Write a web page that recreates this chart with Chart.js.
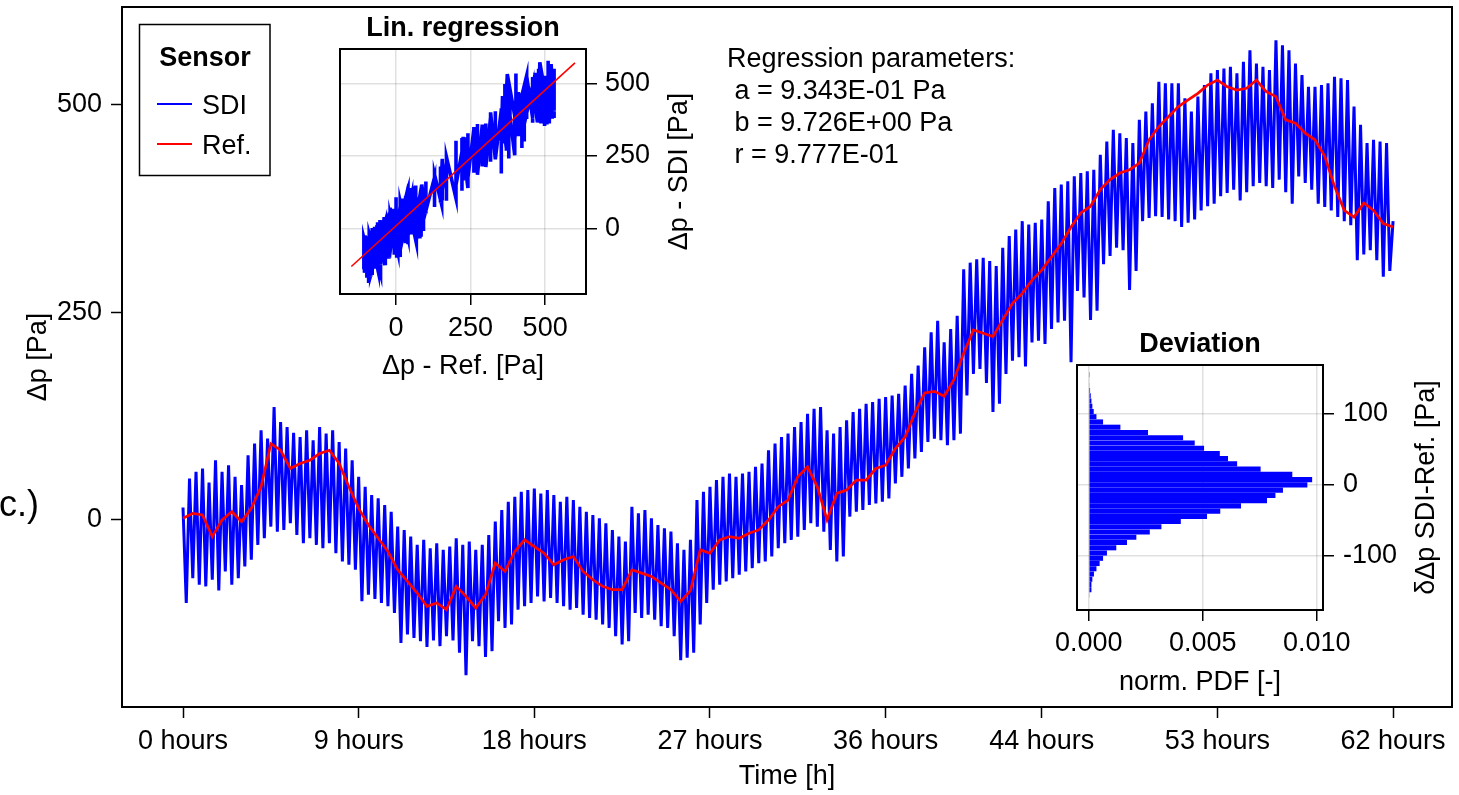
<html>
<head>
    <title>SDI vs reference</title>
    <style>
        body { margin: 0; background: #fff; }
        #wrap { position: relative; width: 1459px; height: 795px; }
        #wrap canvas { position: absolute; }
    </style>
</head>
<body>

<script src="https://cdn.jsdelivr.net/npm/chart.js"></script>

<div id="wrap">
    <canvas id="main_chart" width="1459" height="795" style="left:0;top:0"></canvas>
    <canvas id="reg_chart" width="420" height="390" style="left:300px;top:0"></canvas>
    <canvas id="dev_chart" width="419" height="400" style="left:1040px;top:320px"></canvas>
</div>

<script>

    // ---- data ----

    // main plot: time axis (hours)
    const x_tick_hours = [0, 9, 18, 27, 36, 44, 53, 62];
    const y_ticks = [0, 250, 500];

    // Ref. sensor, one value every 0.5 h (Pa)
    const ref_step_h = 0.5;
    const ref_values = [
        2, 8, 6, -20, 0, 10, -2, 14, 40, 92,
        84, 62, 68, 72, 80, 84, 68, 40, 14, -6,
        -22, -38, -60, -74, -88, -104, -100, -108, -80, -92,
        -106, -90, -52, -62, -38, -24, -32, -40, -54, -48,
        -44, -62, -72, -80, -84, -84, -60, -64, -68, -76,
        -84, -98, -85, -36, -40, -24, -20, -22, -16, -12,
        0, 16, 24, 52, 64, 40, 0, 32, 36, 48,
        48, 62, 66, 86, 100, 129, 153, 155, 149, 169,
        201, 229, 225, 221, 241, 261, 273, 289, 301, 317,
        333, 353, 370, 378, 398, 410, 418, 422, 430, 458,
        474, 486, 498, 506, 514, 524, 530, 522, 518, 520,
        530, 516, 510, 482, 478, 466, 458, 438, 402, 373,
        365, 382, 373, 357, 353
    ];

    // SDI sensor oscillates, one cycle every 20 min: peak at start, dip at mid cycle (Pa)
    const cycle_h = 1 / 3;
    const sdi_high = [
        15, 50, 58, 62, 45, 72, 58, 66, 52, 42, 78, 92,
        108, 98, 136, 118, 112, 105, 100, 108, 96, 112, 104, 108,
        94, 86, 72, 52, 40, 30, 26, 18, 10, -8, -12, -20,
        -30, -24, -34, -28, -36, -32, -22, -30, -26, -36, -30, -18,
        -2, 12, 22, 28, 34, 36, 38, 32, 36, 30, 22, 28,
        24, 16, 10, 6, 2, -4, -12, -20, -26, 16, 8, 12,
        2, -6, -10, -14, -28, -36, -24, 24, 34, 40, 48, 52,
        56, 52, 56, 58, 64, 68, 84, 92, 100, 104, 112, 118,
        128, 134, 136, 108, 104, 112, 120, 130, 134, 140, 142, 146,
        148, 150, 152, 162, 176, 186, 208, 226, 240, 214, 230, 246,
        302, 310, 314, 316, 312, 306, 328, 342, 350, 360, 356, 358,
        362, 384, 400, 404, 408, 414, 418, 420, 422, 440, 456, 470,
        466, 460, 454, 482, 492, 502, 528, 526, 526, 526, 508, 492,
        510, 524, 538, 542, 544, 546, 538, 552, 566, 550, 546, 542,
        578, 572, 566, 550, 536, 522, 522, 524, 526, 534, 532, 530,
        498, 476, 454, 458, 456, 454,
        360
    ];
    const sdi_low = [
        -100, -70, -78, -80, -72, -85, -62, -78, -70, -56, -48, -30,
        -22, -8, -14, -12, -4, -18, -28, -22, -30, -34, -28, -40,
        -50, -54, -60, -98, -90, -95, -100, -104, -112, -148, -138, -142,
        -146, -153, -145, -152, -140, -145, -160, -187, -146, -152, -165, -158,
        -122, -130, -126, -108, -104, -100, -92, -98, -94, -100, -104, -108,
        -106, -114, -118, -120, -126, -130, -140, -150, -146, -112, -118, -114,
        -120, -128, -130, -140, -169, -166, -160, -126, -100, -84, -78, -74,
        -70, -66, -62, -58, -52, -50, -44, -34, -28, -24, -20, -12,
        -4, -8, -14, -36, -50, -44, 4, 10, 12, 18, 20, 22,
        26, 44, 52, 62, 74, 82, 94, 98, 96, 90, 96, 104,
        150, 176, 182, 165, 130, 140, 176, 192, 196, 185, 214, 216,
        212, 230, 238, 240, 190, 276, 268, 241, 252, 308, 318, 328,
        325, 277, 300, 360, 364, 366, 365, 362, 360, 353, 358, 362,
        373, 378, 381, 390, 394, 398, 385, 395, 402, 406, 402, 400,
        410, 395, 381, 414, 406, 398, 381, 377, 373, 365, 360, 355,
        313, 320, 325, 313, 293, 300
    ];

    // linear regression inset
    const reg_ticks = [0, 250, 500];
    const reg_a = 0.9343;
    const reg_b = 9.726;
    const reg_r = 0.9777;
    const fit_x = [-150, 600];

    // deviation histogram inset: bin centres (Pa) and normalised PDF
    const dev_bins = [
        -155.8, -148.4, -141.0, -133.6, -126.2, -118.8, -111.4, -104.0, -96.6, -89.2,
        -81.8, -74.4, -67.0, -59.6, -52.2, -44.8, -37.4, -30.0, -22.6, -15.2,
        -7.8, -0.4, 7.0, 14.4, 21.8, 29.2, 36.6, 44.0, 51.4, 58.8,
        66.2, 73.6, 81.0, 88.4, 95.8, 103.2, 110.6, 118.0, 125.4, 132.8,
        140.2, 147.6, 155.0
    ];
    const dev_pdf = [
        0.00004, 0.00012, 0.00012, 0.00016, 0.00023, 0.00034, 0.00048, 0.00063, 0.00080, 0.00121,
        0.00168, 0.00209, 0.00268, 0.00319, 0.00404, 0.00519, 0.00577, 0.00668, 0.00782, 0.00819,
        0.00852, 0.00959, 0.00980, 0.00893, 0.00754, 0.00651, 0.00611, 0.00575, 0.00506, 0.00465,
        0.00414, 0.00260, 0.00139, 0.00063, 0.00034, 0.00022, 0.00016, 0.00012, 0.00009, 0.00006,
        0.00004, 0.00003, 0.00002
    ];
    const dev_x_ticks = [0, 0.005, 0.01];
    const dev_y_ticks = [-100, 0, 100];

    // ---- helpers ----

    const FONT = "'Liberation Sans', Arial, sans-serif";
    Chart.defaults.font.family = FONT;
    Chart.defaults.font.size = 27;
    Chart.defaults.color = '#000';

    function fixed_ticks(values) {
        return function (scale) {
            scale.ticks = values.map(v => ({value: v}));
        };
    }

    // force axis box size, and stop tick labels from pushing the plot area
    function fixed_width(w) {
        return function (scale) {
            scale.width = w;
            scale.paddingTop = 0;
            scale.paddingBottom = 0;
        };
    }

    function fixed_height(h) {
        return function (scale) {
            scale.height = h;
            scale.paddingLeft = 0;
            scale.paddingRight = 0;
        };
    }

    function sci(v) {
        const parts = v.toExponential(3).split('e');
        const n = parseInt(parts[1]);
        return parts[0] + 'E' + (n < 0 ? '-' : '+') + String(Math.abs(n)).padStart(2, '0');
    }

    function put_text(ctx, text, x, y, font, align, rotate) {
        ctx.save();
        ctx.font = font;
        ctx.fillStyle = '#000';
        ctx.textAlign = align || 'left';
        ctx.textBaseline = rotate ? 'middle' : 'alphabetic';
        ctx.translate(x, y);
        if (rotate) ctx.rotate(-Math.PI / 2);
        ctx.fillText(text, 0, 0);
        ctx.restore();
    }

    const frame_plugin = {
        id: 'frame',
        afterDraw(chart) {
            const a = chart.chartArea;
            const ctx = chart.ctx;
            ctx.save();
            ctx.strokeStyle = '#000';
            ctx.lineWidth = 2;
            ctx.strokeRect(a.left, a.top, a.right - a.left, a.bottom - a.top);
            ctx.restore();
        }
    };

    const inset_grid = {color: 'rgba(0,0,0,0.12)', lineWidth: 1.5, tickColor: '#000', tickLength: 11, tickWidth: 1.5, offset: false};

    // ---- build points ----

    const sdi_points = [];
    sdi_high.forEach((v, i) => {
        sdi_points.push({x: i * cycle_h, y: v});
        if (i < sdi_low.length) sdi_points.push({x: i * cycle_h + cycle_h / 2, y: sdi_low[i]});
    });
    const ref_points = ref_values.map((v, i) => ({x: i * ref_step_h, y: v}));

    // SDI against the Ref. value of the same half hour
    const reg_points = sdi_points.map(p => ({x: ref_values[Math.round(p.x / ref_step_h)], y: p.y}));
    const fit_points = fit_x.map(x => ({x: x, y: reg_a * x + reg_b}));

    const reg_lines = [
        'Regression parameters:',
        ' a = ' + sci(reg_a) + ' Pa',
        ' b = ' + sci(reg_b) + ' Pa',
        ' r = ' + sci(reg_r)
    ];

    // ---- main chart ----

    const main_extras = {
        id: 'main_extras',
        afterDraw(chart) {
            const ctx = chart.ctx;
            put_text(ctx, 'c.)', -1, 516, '36px ' + FONT);

            // legend box
            ctx.save();
            ctx.strokeStyle = '#000';
            ctx.lineWidth = 1.5;
            ctx.strokeRect(139.5, 24.5, 130.5, 151);
            ctx.restore();
            put_text(ctx, 'Sensor', 205, 66, 'bold 27px ' + FONT, 'center');
            chart.data.datasets.forEach((ds, i) => {
                const y = 104 + i * 40;
                ctx.save();
                ctx.strokeStyle = ds.borderColor;
                ctx.lineWidth = 2;
                ctx.beginPath();
                ctx.moveTo(157, y);
                ctx.lineTo(192, y);
                ctx.stroke();
                ctx.restore();
                put_text(ctx, ds.label, 202, y + 10, '27px ' + FONT);
            });

            reg_lines.forEach((line, i) => put_text(ctx, line, 727, 67 + i * 32, '27px ' + FONT));
        }
    };

    const main_chart = new Chart(document.getElementById('main_chart'), {
        type: 'line',
        data: {
            datasets: [
                {label: 'SDI', data: sdi_points, borderColor: '#0000ff', borderWidth: 3, pointRadius: 0, order: 1},
                {label: 'Ref.', data: ref_points, borderColor: '#ff0000', borderWidth: 2.7, pointRadius: 0, order: 0}
            ]
        },
        options: {
            responsive: false,
            animation: false,
            events: [],
            layout: {padding: {top: 7, right: 7, left: 0, bottom: 0}},
            plugins: {legend: {display: false}, tooltip: {enabled: false}},
            scales: {
                x: {
                    type: 'linear', min: -3.126, max: 65.02,
                    afterBuildTicks: fixed_ticks(x_tick_hours),
                    afterFit: fixed_height(88),
                    grid: {drawOnChartArea: false, tickLength: 11, tickColor: '#000', tickWidth: 1.5},
                    border: {display: false},
                    ticks: {autoSkip: false, maxRotation: 0, padding: 7, callback: v => v + ' hours'},
                    title: {display: true, text: 'Time [h]', padding: {top: 0, bottom: 2}}
                },
                y: {
                    type: 'linear', min: -225.3, max: 618,
                    afterBuildTicks: fixed_ticks(y_ticks),
                    afterFit: fixed_width(122),
                    grid: {drawOnChartArea: false, tickLength: 11, tickColor: '#000', tickWidth: 1.5},
                    border: {display: false},
                    ticks: {padding: 9},
                    title: {display: true, text: 'Δp [Pa]', padding: {top: 22, bottom: 0}}
                }
            }
        },
        plugins: [frame_plugin, main_extras]
    });

    // ---- regression inset ----

    const reg_extras = {
        id: 'reg_extras',
        afterDraw(chart) {
            const a = chart.chartArea;
            const mid = (a.left + a.right) / 2;
            put_text(chart.ctx, 'Lin. regression', mid, a.top - 13, 'bold 27px ' + FONT, 'center');
            put_text(chart.ctx, 'Δp - Ref. [Pa]', mid, a.bottom + 80, '27px ' + FONT, 'center');
            put_text(chart.ctx, 'Δp - SDI [Pa]', 380, (a.top + a.bottom) / 2, '27px ' + FONT, 'center', true);
        }
    };

    const reg_chart = new Chart(document.getElementById('reg_chart'), {
        type: 'scatter',
        data: {
            datasets: [
                {label: 'SDI vs Ref.', data: reg_points, showLine: true, borderColor: '#0000ff', borderWidth: 3.6, pointRadius: 0, order: 1},
                {label: 'fit', data: fit_points, showLine: true, borderColor: '#ff0000', borderWidth: 1.6, pointRadius: 0, order: 0}
            ]
        },
        options: {
            responsive: false,
            animation: false,
            events: [],
            layout: {padding: {left: 40, top: 49, right: 0, bottom: 0}},
            plugins: {legend: {display: false}, tooltip: {enabled: false}},
            scales: {
                x: {
                    type: 'linear', min: -188, max: 637,
                    afterBuildTicks: fixed_ticks(reg_ticks),
                    afterFit: fixed_height(96),
                    grid: inset_grid,
                    border: {display: false},
                    ticks: {padding: 7, maxRotation: 0, autoSkip: false}
                },
                y: {
                    type: 'linear', position: 'right', min: -225, max: 618,
                    afterBuildTicks: fixed_ticks(reg_ticks),
                    afterFit: fixed_width(134),
                    grid: inset_grid,
                    border: {display: false},
                    ticks: {padding: 8}
                }
            }
        },
        plugins: [frame_plugin, reg_extras]
    });

    // ---- deviation inset ----

    const dev_extras = {
        id: 'dev_extras',
        afterDraw(chart) {
            const a = chart.chartArea;
            const mid = (a.left + a.right) / 2;
            put_text(chart.ctx, 'Deviation', mid, a.top - 13, 'bold 27px ' + FONT, 'center');
            put_text(chart.ctx, 'norm. PDF [-]', mid, a.bottom + 80, '27px ' + FONT, 'center');
            put_text(chart.ctx, 'δΔp SDI-Ref. [Pa]', 387, (a.top + a.bottom) / 2, '27px ' + FONT, 'center', true);
        }
    };

    const dev_chart = new Chart(document.getElementById('dev_chart'), {
        type: 'bar',
        data: {
            datasets: [{
                label: 'deviation',
                data: dev_bins.map((b, i) => ({x: dev_pdf[i], y: b})),
                backgroundColor: '#0000ff',
                borderWidth: 0,
                barPercentage: 0.97,
                categoryPercentage: 1
            }]
        },
        options: {
            indexAxis: 'y',
            responsive: false,
            animation: false,
            events: [],
            layout: {padding: {left: 37, top: 45, right: 0, bottom: 0}},
            plugins: {legend: {display: false}, tooltip: {enabled: false}},
            scales: {
                x: {
                    type: 'linear', min: -0.000513, max: 0.010276,
                    afterBuildTicks: fixed_ticks(dev_x_ticks),
                    afterFit: fixed_height(110),
                    grid: inset_grid,
                    border: {display: false},
                    ticks: {padding: 6, maxRotation: 0, autoSkip: false, callback: v => v.toFixed(3)}
                },
                y: {
                    type: 'linear', position: 'right', min: -177, max: 168.8,
                    offset: false,
                    afterBuildTicks: fixed_ticks(dev_y_ticks),
                    afterFit: fixed_width(136),
                    grid: inset_grid,
                    border: {display: false},
                    ticks: {padding: 9}
                }
            }
        },
        plugins: [frame_plugin, dev_extras]
    });

</script>

</body>
</html>
